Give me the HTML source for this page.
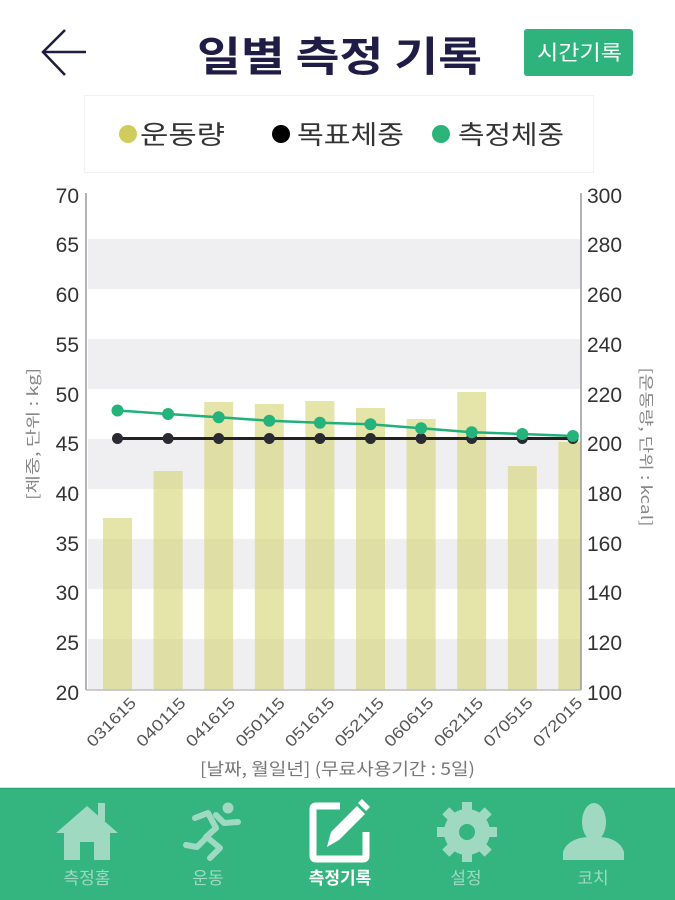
<!DOCTYPE html>
<html><head><meta charset="utf-8">
<style>
html,body{margin:0;padding:0;background:#fff;}
body{width:675px;height:900px;overflow:hidden;}
svg{display:block;}
text{font-family:"Liberation Sans","Noto Sans CJK KR",sans-serif;}
.k{font-family:"Noto Sans CJK KR","Liberation Sans",sans-serif;}
</style></head>
<body>
<svg width="675" height="900" viewBox="0 0 675 900" xmlns="http://www.w3.org/2000/svg">
<!-- header -->
<polyline points="86,52 44,52" stroke="#1e1c40" stroke-width="2.5" fill="none"/>
<polyline points="65,30 43,52 65,75" stroke="#1e1c40" stroke-width="2.5" fill="none"/>
<text class="k" x="197" y="71" font-size="41" font-weight="700" fill="#1f1d46" textLength="285" lengthAdjust="spacingAndGlyphs">일별 측정 기록</text>
<rect x="524" y="29" width="109" height="47" rx="3" fill="#2db37b"/>
<text class="k" x="537" y="60" font-size="21" fill="#fff" textLength="85" lengthAdjust="spacingAndGlyphs">시간기록</text>

<!-- legend -->
<rect x="84.5" y="95.5" width="509" height="77" fill="#fff" stroke="#f2f2f2" stroke-width="1"/>
<circle cx="128" cy="134" r="9" fill="#cfcc5b"/>
<text class="k" x="140" y="144" font-size="26" fill="#333" textLength="85" lengthAdjust="spacingAndGlyphs">운동량</text>
<circle cx="281" cy="134" r="9" fill="#000"/>
<text class="k" x="297" y="144" font-size="26" fill="#333" textLength="107" lengthAdjust="spacingAndGlyphs">목표체중</text>
<circle cx="441" cy="134" r="9" fill="#2bb37a"/>
<text class="k" x="458" y="144" font-size="26" fill="#333" textLength="106" lengthAdjust="spacingAndGlyphs">측정체중</text>

<!-- bands -->
<g fill="#efeff2">
<rect x="88" y="239" width="493" height="50"/>
<rect x="88" y="339" width="493" height="50"/>
<rect x="88" y="439" width="493" height="50"/>
<rect x="88" y="539" width="493" height="50"/>
<rect x="88" y="639" width="493" height="50"/>
</g>

<!-- bars -->
<g fill="#d4d270" fill-opacity="0.6">
<rect x="103" y="518" width="29" height="172"/>
<rect x="153.6" y="471" width="29" height="219"/>
<rect x="204.2" y="402" width="29" height="288"/>
<rect x="254.8" y="404" width="29" height="286"/>
<rect x="305.4" y="401" width="29" height="289"/>
<rect x="356" y="408" width="29" height="282"/>
<rect x="406.6" y="419" width="29" height="271"/>
<rect x="457.2" y="392" width="29" height="298"/>
<rect x="507.8" y="466" width="29" height="224"/>
<rect x="558.4" y="442" width="22.6" height="248"/>
</g>

<!-- axes -->
<line x1="86" y1="193" x2="86" y2="690" stroke="#999" stroke-width="1.5"/>
<line x1="581" y1="193" x2="581" y2="690" stroke="#999" stroke-width="1.5"/>
<line x1="86" y1="690" x2="581" y2="690" stroke="#bbb" stroke-width="1.5"/>

<!-- target line -->
<polyline points="117.5,438.5 168.1,438.5 218.7,438.5 269.3,438.5 319.9,438.5 370.5,438.5 421.1,438.5 471.7,438.5 522.3,438.5 572.9,438.5" stroke="#222" stroke-width="3" fill="none"/>
<g fill="#2a2a33">
<circle cx="117.5" cy="438.5" r="5.5"/><circle cx="168.1" cy="438.5" r="5.5"/><circle cx="218.7" cy="438.5" r="5.5"/><circle cx="269.3" cy="438.5" r="5.5"/><circle cx="319.9" cy="438.5" r="5.5"/><circle cx="370.5" cy="438.5" r="5.5"/><circle cx="421.1" cy="438.5" r="5.5"/><circle cx="471.7" cy="438.5" r="5.5"/><circle cx="522.3" cy="438.5" r="5.5"/><circle cx="572.9" cy="438.5" r="5.5"/>
</g>
<!-- measured line -->
<polyline points="117.5,410.5 168.1,414 218.7,417.3 269.3,420.7 319.9,422.7 370.5,424.3 421.1,428.3 471.7,432.3 522.3,434 572.9,436" stroke="#22b07a" stroke-width="2.5" fill="none"/>
<g fill="#25b37c">
<circle cx="117.5" cy="410.5" r="6"/><circle cx="168.1" cy="414" r="6"/><circle cx="218.7" cy="417.3" r="6"/><circle cx="269.3" cy="420.7" r="6"/><circle cx="319.9" cy="422.7" r="6"/><circle cx="370.5" cy="424.3" r="6"/><circle cx="421.1" cy="428.3" r="6"/><circle cx="471.7" cy="432.3" r="6"/><circle cx="522.3" cy="434" r="6"/><circle cx="572.9" cy="436" r="6"/>
</g>

<!-- left ticks -->
<g font-size="21" fill="#333" text-anchor="end">
<text x="79" y="203">70</text>
<text x="79" y="252">65</text>
<text x="79" y="302">60</text>
<text x="79" y="352">55</text>
<text x="79" y="402">50</text>
<text x="79" y="451">45</text>
<text x="79" y="501">40</text>
<text x="79" y="551">35</text>
<text x="79" y="600">30</text>
<text x="79" y="650">25</text>
<text x="79" y="700">20</text>
</g>
<!-- right ticks -->
<g font-size="21" fill="#333">
<text x="587" y="203">300</text>
<text x="587" y="252">280</text>
<text x="587" y="302">260</text>
<text x="587" y="352">240</text>
<text x="587" y="402">220</text>
<text x="587" y="451">200</text>
<text x="587" y="501">180</text>
<text x="587" y="551">160</text>
<text x="587" y="600">140</text>
<text x="587" y="650">120</text>
<text x="587" y="700">100</text>
</g>

<!-- axis titles -->
<text class="k" transform="translate(38,434) rotate(-90)" text-anchor="middle" font-size="15" fill="#888" textLength="132" lengthAdjust="spacingAndGlyphs">[체중, 단위 : kg]</text>
<text class="k" transform="translate(641,447) rotate(90)" text-anchor="middle" font-size="15" fill="#888" textLength="159" lengthAdjust="spacingAndGlyphs">[운동량, 단위 : kcal]</text>

<!-- x labels -->
<g font-size="16" fill="#555" text-anchor="end">
<text transform="translate(137,704) rotate(-45)" textLength="62" lengthAdjust="spacingAndGlyphs">031615</text>
<text transform="translate(186.6,704) rotate(-45)" textLength="62" lengthAdjust="spacingAndGlyphs">040115</text>
<text transform="translate(236.2,704) rotate(-45)" textLength="62" lengthAdjust="spacingAndGlyphs">041615</text>
<text transform="translate(285.8,704) rotate(-45)" textLength="62" lengthAdjust="spacingAndGlyphs">050115</text>
<text transform="translate(335.4,704) rotate(-45)" textLength="62" lengthAdjust="spacingAndGlyphs">051615</text>
<text transform="translate(385,704) rotate(-45)" textLength="62" lengthAdjust="spacingAndGlyphs">052115</text>
<text transform="translate(434.6,704) rotate(-45)" textLength="62" lengthAdjust="spacingAndGlyphs">060615</text>
<text transform="translate(484.2,704) rotate(-45)" textLength="62" lengthAdjust="spacingAndGlyphs">062115</text>
<text transform="translate(533.8,704) rotate(-45)" textLength="62" lengthAdjust="spacingAndGlyphs">070515</text>
<text transform="translate(583.4,704) rotate(-45)" textLength="62" lengthAdjust="spacingAndGlyphs">072015</text>
</g>
<text class="k" x="200" y="775" font-size="17" fill="#777" textLength="275" lengthAdjust="spacingAndGlyphs">[날짜, 월일년] (무료사용기간 : 5일)</text>

<!-- bottom nav -->
<rect x="0" y="788" width="675" height="112" fill="#34b47e"/>
<line x1="0" y1="788.5" x2="675" y2="788.5" stroke="#26a872" stroke-width="1.5"/>
<g fill="#a0d9c1">
  <!-- house -->
  <polygon points="56,833 87,806 118,833"/>
  <rect x="98" y="803" width="7" height="18"/>
  <rect x="64" y="828" width="46" height="32"/>
  <rect x="80" y="842" width="14" height="18" fill="#34b47e"/>
  <!-- runner -->
  <circle cx="228" cy="808" r="5.5"/>
  <!-- gear -->
  <g transform="translate(467,832)">
    <circle r="23"/>
    <rect x="-5" y="-30" width="10" height="60"/>
    <rect x="-5" y="-30" width="10" height="60" transform="rotate(45)"/>
    <rect x="-5" y="-30" width="10" height="60" transform="rotate(90)"/>
    <rect x="-5" y="-30" width="10" height="60" transform="rotate(135)"/>
    <circle r="8" fill="#34b47e"/>
  </g>
  <!-- person -->
  <ellipse cx="594" cy="822" rx="12" ry="19"/>
  <path d="M563,860 L563,852 Q566,842 580,838 L594,836 L608,838 Q621,842 624,852 L624,860 Z"/>
</g>
<!-- runner limbs -->
<g stroke="#a0d9c1" stroke-width="6" stroke-linecap="round" stroke-linejoin="round" fill="none">
  <polyline points="195,818 208,813 216,828 206,837"/>
  <polyline points="216,815 224,823 238,822"/>
  <polyline points="208,838 220,848 210,858"/>
  <polyline points="206,838 197,847 186,845"/>
</g>
<!-- edit icon (active) -->
<g fill="none" stroke="#fff" stroke-width="7" stroke-linejoin="round">
  <path d="M340,806 L316,806 Q313,806 313,809 L313,856 Q313,859 316,859 L363,859 Q366,859 366,856 L366,832"/>
</g>
<polygon points="327,847 331,832 357,806 365,814 339,840" fill="#fff"/>
<polygon points="358,803 362,799 370,807 366,811" fill="#fff"/>

<g class="k" font-size="17" text-anchor="middle">
<text class="k" x="87" y="884" fill="#a0d9c1">측정홈</text>
<text class="k" x="208" y="884" fill="#a0d9c1">운동</text>
<text class="k" x="340" y="884" fill="#fff" font-weight="700">측정기록</text>
<text class="k" x="466" y="884" fill="#a0d9c1">설정</text>
<text class="k" x="593" y="884" fill="#a0d9c1">코치</text>
</g>
</svg>
</body></html>
